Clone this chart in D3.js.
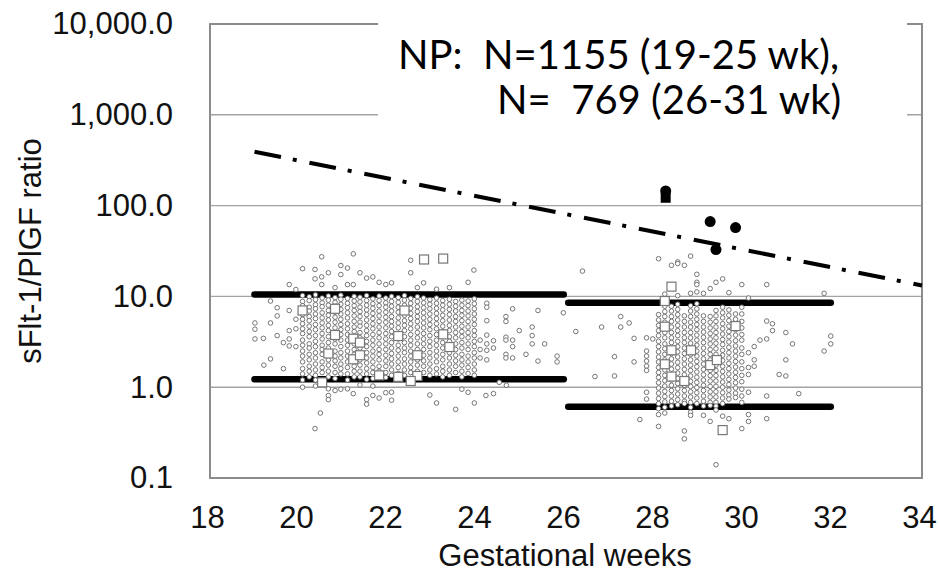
<!DOCTYPE html>
<html>
<head>
<meta charset="utf-8">
<script src="https://cdn.jsdelivr.net/npm/d3@7"></script>
<style>
  body { margin: 0; background: #fff; }
  svg { display: block; font-family: "Liberation Sans", Arial, sans-serif; }
</style>
</head>
<body>
<svg id="chart" width="939" height="572"></svg>
<script>
(function (d3) {
    'use strict';

    var xTicks = [18, 20, 22, 24, 26, 28, 30, 32, 34];
    var yTicks = [0.1, 1, 10, 100, 1000, 10000];

    // cut-off line (dash-dot)
    var cutoffWeeks = [19, 34];
    var cutoffRatio = [392, 13.2];

    // 95th / 5th percentile bands of normal pregnancies
    var bandStart = [19, 26.05];
    var bandEnd = [25.95, 31.95];
    var bandUpper = [10.5, 8.5];
    var bandLower = [1.22, 0.61];

    // NP 19-25 wk: stacked columns
    var colWeeks1 = [20.08, 20.23, 20.37, 20.52, 20.66, 20.81, 20.94, 21.09, 21.24, 21.37, 21.52, 21.66, 21.80, 21.95,
        22.08, 22.23, 22.37, 22.51, 22.66, 22.80, 22.94, 23.09, 23.23, 23.38, 23.52, 23.66, 23.80, 23.94];
    var colRatios1 = [
        [10.2, 8.8, 7.9, 7.1, 6.3, 5.6, 5.0, 4.4, 3.9, 3.3, 2.9, 2.5, 2.2, 1.9, 1.6, 1.4, 1.2],
        [9.9, 9.0, 7.6, 6.9, 6.0, 5.4, 4.7, 4.1, 3.6, 3.0, 2.7, 2.3, 2.0, 1.7, 1.5, 1.3],
        [10.4, 9.2, 8.1, 7.3, 6.4, 5.7, 4.9, 4.3, 3.7, 3.2, 2.8, 2.4, 2.1, 1.8, 1.55, 1.35, 1.2],
        [9.6, 8.5, 7.7, 6.6, 5.8, 5.1, 4.5, 3.9, 3.4, 2.9, 2.6, 2.3, 1.9, 1.65, 1.45],
        [10.1, 9.1, 8.0, 7.0, 6.2, 5.5, 4.8, 4.2, 3.6, 3.1, 2.7, 2.35, 2.0, 1.75, 1.5, 1.3],
        [9.7, 8.6, 7.8, 6.7, 5.9, 5.2, 4.5, 4.0, 3.4, 3.0, 2.5, 2.2, 1.95, 1.7, 1.45, 1.25],
        [10.3, 9.3, 8.2, 7.2, 6.4, 5.6, 4.9, 4.3, 3.8, 3.3, 2.8, 2.4, 2.1, 1.8, 1.6, 1.4],
        [9.5, 8.4, 7.5, 6.6, 5.8, 5.0, 4.4, 3.8, 3.3, 2.9, 2.5, 2.2, 1.9, 1.65, 1.4, 1.2],
        [10.0, 8.9, 7.9, 7.0, 6.1, 5.3, 4.6, 4.1, 3.5, 3.0, 2.6, 2.3, 2.0, 1.7, 1.5, 1.3],
        [9.8, 8.7, 7.6, 6.8, 6.0, 5.2, 4.7, 4.0, 3.5, 3.1, 2.7, 2.3, 2.0, 1.75, 1.5, 1.3],
        [10.2, 9.0, 8.0, 7.1, 6.3, 5.5, 4.8, 4.2, 3.7, 3.2, 2.8, 2.4, 2.1, 1.85, 1.6, 1.4, 1.22],
        [9.4, 8.3, 7.4, 6.5, 5.7, 5.0, 4.4, 3.8, 3.3, 2.9, 2.5, 2.2, 1.9, 1.65, 1.45, 1.25],
        [10.1, 9.0, 7.9, 6.9, 6.1, 5.3, 4.6, 4.0, 3.5, 3.0, 2.6, 2.3, 2.0, 1.7, 1.5, 1.3],
        [9.6, 8.5, 7.6, 6.7, 5.9, 5.2, 4.5, 3.9, 3.4, 3.0, 2.6, 2.25, 1.95, 1.7, 1.45, 1.28],
        [10.0, 8.8, 7.8, 6.9, 6.0, 5.3, 4.7, 4.1, 3.6, 3.1, 2.7, 2.35, 2.05, 1.8, 1.55, 1.35],
        [9.7, 8.6, 7.6, 6.7, 5.8, 5.1, 4.5, 3.9, 3.4, 2.9, 2.55, 2.2, 1.9, 1.65, 1.42],
        [10.2, 9.1, 8.0, 7.1, 6.2, 5.4, 4.8, 4.2, 3.6, 3.1, 2.7, 2.4, 2.05, 1.8, 1.55, 1.35],
        [9.5, 8.4, 7.4, 6.5, 5.7, 5.0, 4.4, 3.8, 3.3, 2.9, 2.5, 2.2, 1.9, 1.65, 1.45],
        [9.9, 8.8, 7.7, 6.8, 6.0, 5.3, 4.6, 4.0, 3.5, 3.0, 2.6, 2.0, 1.75, 1.5, 1.3],
        [9.6, 8.5, 7.5, 6.6, 5.8, 5.1, 4.5, 3.9, 3.4, 3.0, 2.6, 2.25, 1.95, 1.7, 1.45],
        [9.2, 8.2, 7.3, 6.4, 5.6, 4.9, 4.3, 3.7, 3.2, 2.8, 2.4, 2.1, 1.8, 1.55, 1.35],
        [9.6, 8.4, 7.4, 6.5, 5.7, 5.0, 4.4, 3.8, 3.3, 2.9, 2.5, 2.2, 1.9, 1.6, 1.4],
        [9.0, 8.0, 7.1, 6.2, 5.4, 4.7, 4.1, 3.6, 3.1, 2.7, 2.3, 2.0, 1.7, 1.5, 1.3],
        [9.3, 8.2, 7.2, 6.3, 5.5, 4.8, 4.2, 3.6, 3.2, 2.75, 2.4, 2.1, 1.8, 1.55, 1.35],
        [8.8, 7.8, 6.9, 6.0, 5.3, 4.6, 4.0, 3.5, 3.0, 2.6, 2.25, 1.95, 1.7, 1.45],
        [9.1, 8.0, 7.0, 6.2, 5.4, 4.7, 4.1, 3.6, 3.1, 2.7, 2.3, 2.0, 1.75, 1.5, 1.3],
        [8.9, 7.9, 6.9, 6.1, 5.3, 4.6, 4.0, 3.5, 3.0, 2.6, 2.2, 1.9, 1.65, 1.42],
        [9.4, 8.3, 7.3, 6.4, 5.6, 4.9, 4.2, 3.7, 3.2, 2.8, 2.4, 2.1, 1.8, 1.55, 1.35]
    ];

    // NP 26-31 wk: stacked columns
    var colWeeks2 = [28.08, 28.22, 28.37, 28.51, 28.66, 28.80, 28.94, 29.09, 29.24, 29.37, 29.52, 29.66, 29.81, 29.95];
    var colRatios2 = [
        [6.3, 5.5, 4.8, 4.2, 3.7, 3.2, 2.8, 2.45, 2.15, 1.9, 1.65, 1.45, 1.28, 1.12, 0.98, 0.86, 0.75, 0.66, 0.58, 0.5],
        [7.8, 6.8, 6.0, 5.2, 4.5, 4.0, 3.5, 3.0, 2.65, 2.3, 2.0, 1.75, 1.55, 1.35, 1.18, 1.03, 0.9, 0.79, 0.69, 0.6, 0.52],
        [7.8, 6.9, 6.0, 5.3, 4.6, 4.0, 3.5, 3.1, 2.7, 2.35, 2.05, 1.8, 1.58, 1.38, 1.2, 1.05, 0.92, 0.8, 0.7, 0.62],
        [8.2, 7.2, 6.3, 5.5, 4.8, 4.2, 3.7, 3.2, 2.8, 2.45, 2.15, 1.88, 1.64, 1.43, 1.25, 1.1, 0.96, 0.84, 0.73, 0.64],
        [6.1, 5.3, 4.6, 4.0, 3.5, 3.1, 2.7, 2.35, 2.05, 1.8, 1.57, 1.37, 1.2, 1.05, 0.92, 0.8, 0.7, 0.66],
        [7.9, 6.9, 6.0, 5.2, 4.6, 4.0, 3.5, 3.05, 2.65, 2.3, 2.0, 1.75, 1.53, 1.33, 1.16, 1.02, 0.89, 0.78, 0.68, 0.6, 0.53],
        [8.3, 7.3, 6.4, 5.6, 4.9, 4.3, 3.75, 3.3, 2.9, 2.5, 2.2, 1.92, 1.68, 1.47, 1.29, 1.13, 0.99, 0.87, 0.76, 0.66],
        [6.1, 5.3, 4.6, 4.05, 3.55, 3.1, 2.7, 2.35, 2.05, 1.8, 1.57, 1.37, 1.2, 1.05, 0.92, 0.8, 0.7, 0.62],
        [6.0, 5.2, 4.5, 3.9, 3.4, 3.0, 2.6, 2.3, 2.0, 1.75, 1.53, 1.34, 1.17, 1.02, 0.89, 0.78, 0.68, 0.63],
        [7.0, 6.1, 5.3, 4.6, 4.0, 3.5, 3.05, 2.65, 2.3, 2.0, 1.75, 1.53, 1.34, 1.17, 1.02, 0.89, 0.78, 0.68, 0.62],
        [7.6, 6.6, 5.8, 5.0, 4.4, 3.85, 3.35, 2.95, 2.55, 2.25, 1.96, 1.7, 1.49, 1.3, 1.14, 1.0, 0.87, 0.76, 0.66],
        [7.1, 6.2, 5.4, 4.7, 4.1, 3.6, 3.15, 2.75, 2.4, 2.1, 1.83, 1.6, 1.4, 1.22, 1.07, 0.93, 0.82, 0.74],
        [6.4, 5.6, 4.9, 4.3, 3.75, 3.25, 2.85, 2.5, 2.2, 1.92, 1.67, 1.46, 1.28, 1.12, 0.98, 0.86, 0.77],
        [7.6, 6.4, 5.3, 4.5, 3.8, 3.3, 2.7, 2.3, 1.9, 1.6, 1.35, 1.15, 0.95, 0.8, 0.68]
    ];

    // scattered NP values outside the dense columns [week, ratio]
    var scatter1 = [
        [20.51, 27.3], [21.22, 29.4], [22.51, 25.0], [22.51, 18.2], [23.93, 19.5], [20.08, 20.2], [20.36, 19.8],
        [20.36, 15.6], [20.51, 16.4], [20.66, 18.2], [20.94, 21.9], [21.09, 20.5], [20.94, 17.4], [20.51, 13.5],
        [21.09, 13.5], [21.22, 13.5], [21.37, 18.2], [21.66, 16.4], [21.80, 14.3], [21.95, 13.5], [22.08, 14.1],
        [22.80, 14.1], [22.66, 12.5], [23.09, 12.0], [23.38, 12.5], [23.80, 14.3], [19.78, 13.5], [19.93, 11.9],
        [20.81, 12.5], [21.52, 15.9],
        [19.01, 5.1], [19.01, 4.35], [19.01, 3.4], [19.20, 3.45], [19.36, 5.1], [19.51, 7.5], [19.51, 6.1],
        [19.36, 8.9], [19.51, 3.7], [19.65, 3.1], [19.78, 4.2], [19.78, 2.85], [19.93, 2.8], [19.36, 2.05],
        [19.21, 1.75], [19.65, 1.6], [19.78, 7.0], [19.93, 5.6], [19.93, 4.4], [19.78, 3.4],
        [20.08, 1.0], [20.37, 1.03], [20.66, 0.96], [20.66, 0.81], [20.66, 0.73], [20.81, 0.92], [20.94, 0.95],
        [21.09, 0.96], [21.22, 0.85], [21.37, 1.06], [21.52, 0.73], [21.52, 0.65], [21.66, 0.81], [21.80, 0.76],
        [21.95, 0.87], [22.08, 0.88], [22.08, 0.72], [21.66, 1.03], [22.94, 0.82], [23.09, 0.67], [23.52, 0.57],
        [23.66, 0.95], [23.80, 0.88], [23.94, 0.67], [24.20, 0.81], [24.37, 0.85], [20.48, 0.52], [20.36, 0.35],
        [24.50, 1.13], [24.66, 1.05],
        [24.22, 8.4], [24.22, 7.6], [24.22, 5.4], [24.22, 3.75], [24.22, 3.0], [24.22, 2.55], [24.22, 2.0],
        [24.37, 3.25], [24.37, 2.7], [24.07, 2.1], [24.07, 3.3], [24.07, 2.6], [24.65, 6.0], [24.65, 5.3],
        [24.65, 3.55], [24.65, 3.3], [24.65, 2.3], [24.65, 2.1], [24.80, 7.3], [24.80, 3.3], [24.80, 2.8],
        [24.80, 2.1], [24.95, 4.2], [25.10, 2.3], [25.24, 4.6], [25.24, 3.7], [25.24, 3.0], [25.37, 7.0],
        [25.37, 1.94], [25.52, 3.0], [25.80, 2.2], [25.80, 1.9], [25.94, 6.6]
    ];
    var scatter2 = [
        [26.37, 19.0], [28.08, 26], [28.37, 22], [28.51, 24], [28.51, 23], [28.66, 22], [28.80, 27.8],
        [28.94, 17.5], [28.94, 14.3], [28.94, 13.5], [29.24, 12.2], [29.37, 14.3], [29.52, 15.6], [29.95, 13.5],
        [30.51, 13.5], [29.66, 11], [29.09, 10.8], [28.80, 10.8], [28.94, 11.2], [31.80, 10.8], [30.10, 9.6],
        [28.22, 10.6], [28.51, 10.2],
        [26.22, 4.1], [26.65, 1.31], [26.80, 4.6], [27.09, 2.17], [27.09, 1.33], [27.23, 6.0], [27.23, 4.6],
        [27.42, 5.1], [27.53, 3.45], [27.53, 1.9], [27.81, 3.5], [27.81, 2.5], [27.81, 2.2], [27.81, 1.94],
        [27.81, 1.71], [27.81, 1.53], [27.95, 3.4], [27.81, 0.88], [27.81, 0.74], [27.66, 0.44],
        [30.10, 2.4], [30.23, 2.8], [30.23, 2.0], [30.23, 1.7], [30.10, 1.65], [30.10, 1.38], [30.36, 3.3],
        [30.51, 5.35], [30.51, 3.4], [30.51, 0.8], [30.51, 0.45], [30.64, 5.0], [30.64, 4.2], [30.79, 1.38],
        [30.94, 4.0], [30.94, 2.0], [30.94, 1.33], [31.09, 3.0], [31.23, 0.85], [31.80, 2.5], [31.95, 3.66],
        [31.95, 3.0], [30.10, 0.88], [30.10, 0.5], [30.10, 0.42], [29.95, 0.35], [28.08, 0.37], [28.66, 0.33],
        [28.66, 0.27], [28.80, 0.49], [29.09, 0.49], [29.24, 0.42], [29.52, 0.48], [29.66, 0.45], [29.37, 0.14],
        [29.37, 0.56]
    ];

    // open squares
    var squareWeeks = [22.81, 23.24, 20.08, 20.81, 22.37, 20.81, 21.22, 21.37, 22.23, 23.24, 23.38, 22.66, 20.66,
        21.22, 21.37, 21.80, 22.23, 22.66, 22.51, 20.52,
        28.37, 28.22, 28.22, 29.81, 28.37, 28.81, 28.22, 29.24, 29.39, 28.37, 28.66, 29.52];
    var squareRatios = [25.5, 26.1, 7.0, 7.3, 7.0, 3.76, 3.42, 3.1, 3.66, 3.82, 2.77, 2.25, 2.35,
        2.03, 2.25, 1.35, 1.30, 1.33, 1.17, 1.13,
        12.8, 8.9, 4.64, 4.71, 2.55, 2.55, 1.79, 1.75, 1.99, 1.31, 1.17, 0.337];

    // filled markers
    var caseCircleWeeks = [28.24, 29.24, 29.81, 29.37];
    var caseCircleRatios = [145, 66.7, 57.3, 32.8];
    var caseSquareWeeks = [28.24];
    var caseSquareRatios = [122];

    var noteLines = ['NP:\u00a0\u00a0N=1155 (19-25 wk),', 'N=\u00a0\u00a0769 (26-31 wk)'];

    var svg = d3.select('#chart');
    var left = 210, right = 922, top = 24, bottom = 478;

    var x = d3.scaleLinear().domain([18, 34]).range([left, right]);
    var y = d3.scaleLog().domain([0.1, 10000]).range([bottom, top]);

    // grid
    svg.append('g').selectAll('line')
        .data(yTicks.slice(1, -1))
        .enter().append('line')
        .attr('x1', left).attr('x2', right)
        .attr('y1', function (d) { return y(d); })
        .attr('y2', function (d) { return y(d); })
        .attr('stroke', '#a3a3a3').attr('stroke-width', 1.4);

    svg.append('rect')
        .attr('x', left).attr('y', top)
        .attr('width', right - left).attr('height', bottom - top)
        .attr('fill', 'none').attr('stroke', '#8c8c8c').attr('stroke-width', 2);

    // axes
    var yAxis = svg.append('g')
        .attr('transform', 'translate(' + left + ',0)')
        .call(d3.axisLeft(y).tickValues(yTicks).tickFormat(d3.format(',.1f')).tickSize(0).tickPadding(37));
    yAxis.select('.domain').remove();
    yAxis.selectAll('text').attr('font-size', 31).attr('fill', '#111')
        .style('font-family', '"Liberation Sans", Arial, sans-serif');

    var xAxis = svg.append('g')
        .attr('transform', 'translate(0,' + bottom + ')')
        .call(d3.axisBottom(x).tickValues(xTicks).tickFormat(d3.format('d')).tickSize(0));
    xAxis.select('.domain').remove();
    xAxis.selectAll('text').attr('font-size', 31).attr('fill', '#111')
        .attr('dy', null).attr('y', 50).attr('dx', -3)
        .style('font-family', '"Liberation Sans", Arial, sans-serif');

    svg.append('text')
        .attr('x', 565).attr('y', 566)
        .attr('text-anchor', 'middle')
        .attr('font-size', 31).attr('fill', '#111')
        .text('Gestational weeks');

    svg.append('text')
        .attr('transform', 'translate(41,251) rotate(-90)')
        .attr('text-anchor', 'middle')
        .attr('font-size', 31).attr('fill', '#111')
        .text('sFlt-1/PlGF ratio');

    // percentile bands
    var bands = svg.append('g');
    bandStart.forEach(function (s, i) {
        [bandUpper[i], bandLower[i]].forEach(function (v) {
            bands.append('line')
                .attr('x1', x(s)).attr('x2', x(bandEnd[i]))
                .attr('y1', y(v)).attr('y2', y(v))
                .attr('stroke', '#000').attr('stroke-width', 6.5)
                .attr('stroke-linecap', 'round');
        });
    });

    // open circles
    var pts = [];
    colWeeks1.forEach(function (w, i) {
        colRatios1[i].forEach(function (v) { pts.push([w, v]); });
    });
    colWeeks2.forEach(function (w, i) {
        colRatios2[i].forEach(function (v) { pts.push([w, v]); });
    });
    pts = pts.concat(scatter1, scatter2);

    svg.append('g').selectAll('circle')
        .data(pts)
        .enter().append('circle')
        .attr('cx', function (d) { return x(d[0]); })
        .attr('cy', function (d) { return y(d[1]); })
        .attr('r', 2.3)
        .attr('fill', '#fff')
        .attr('stroke', '#666')
        .attr('stroke-width', 0.9);

    svg.append('g').selectAll('rect')
        .data(squareWeeks)
        .enter().append('rect')
        .attr('x', function (d) { return x(d) - 4.5; })
        .attr('y', function (d, i) { return y(squareRatios[i]) - 4.5; })
        .attr('width', 9).attr('height', 9)
        .attr('fill', '#fff')
        .attr('stroke', '#777')
        .attr('stroke-width', 1.2);

    // cut-off line
    var line = d3.line()
        .x(function (d) { return x(d[0]); })
        .y(function (d) { return y(d[1]); });
    svg.append('path')
        .datum(cutoffWeeks.map(function (w, i) { return [w, cutoffRatio[i]]; }))
        .attr('d', line)
        .attr('fill', 'none')
        .attr('stroke', '#000')
        .attr('stroke-width', 4)
        .attr('stroke-dasharray', '27,12,4,13');

    // filled markers
    svg.append('g').selectAll('rect')
        .data(caseSquareWeeks)
        .enter().append('rect')
        .attr('x', function (d) { return x(d) - 5; })
        .attr('y', function (d, i) { return y(caseSquareRatios[i]) - 5; })
        .attr('width', 10).attr('height', 10)
        .attr('fill', '#000');
    svg.append('g').selectAll('circle')
        .data(caseCircleWeeks)
        .enter().append('circle')
        .attr('cx', function (d) { return x(d); })
        .attr('cy', function (d, i) { return y(caseCircleRatios[i]); })
        .attr('r', 5.5)
        .attr('fill', '#000');

    // annotation box
    svg.append('rect')
        .attr('x', 378).attr('y', 0)
        .attr('width', 529).attr('height', 119)
        .attr('fill', '#fff');
    svg.append('g').selectAll('text')
        .data(noteLines)
        .enter().append('text')
        .attr('x', function (d, i) { return i === 0 ? 398 : 497; })
        .attr('y', function (d, i) { return i === 0 ? 69 : 114; })
        .attr('font-family', 'Lato, "Open Sans", sans-serif')
        .attr('font-size', 40).attr('fill', '#000')
        .text(function (d) { return d; });
})(d3);
</script>
</body>
</html>
